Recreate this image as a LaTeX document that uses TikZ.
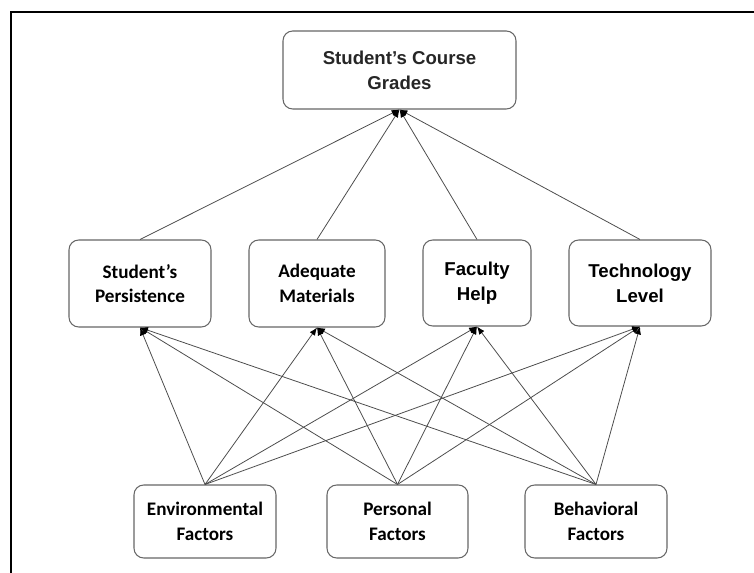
\documentclass[tikz,border=0pt]{standalone}
\usepackage{fontspec}
\setmainfont{Liberation Sans}
\newfontfamily\calibrifont{Carlito}
\usepackage{tikz}
\usetikzlibrary{arrows.meta}
\usetikzlibrary{positioning}
\tikzstyle{box} = [draw=black!60, rounded corners=5.5pt, align=center, line width=0.6pt, font=\bfseries\fontsize{10.6}{14.2}\selectfont]
\tikzstyle{cbox} = [box, font=\calibrifont\bfseries\fontsize{10.9}{14.0}\selectfont]
\tikzstyle{link} = [black!70, line width=0.45pt, -{Latex[length=4.5pt, width=3.6pt, color=black]}]

\begin{document}
\begin{tikzpicture}[x=0.02cm, y=-0.02cm]
                \useasboundingbox (0,0) rectangle (754,573);
                \draw[line width=1.2pt] (11,600) -- (11,12) -- (780,12);

                % outcome
                \node[box, text=black!85, minimum width=4.66cm, minimum height=1.56cm] (grades) at (399.5,70) {Student’s Course\\Grades};

                % middle row
                \node[cbox, minimum width=2.84cm, minimum height=1.74cm] (persist) at (140,283.5) {Student’s\\Persistence};
                \node[cbox, minimum width=2.72cm, minimum height=1.74cm] (materials) at (317,283.5) {Adequate\\Materials};
                \node[box, minimum width=2.16cm, minimum height=1.72cm] (faculty) at (477,283) {Faculty\\Help};
                \node[box, minimum width=2.84cm, minimum height=1.72cm] (tech) at (640,283) {Technology\\Level};

                % bottom row
                \node[cbox, minimum width=2.84cm, minimum height=1.46cm] (env) at (205,521.5) {Environmental\\Factors};
                \node[cbox, minimum width=2.82cm, minimum height=1.46cm] (personal) at (397.5,521.5) {Personal\\Factors};
                \node[cbox, minimum width=2.84cm, minimum height=1.46cm] (behav) at (596,521.5) {Behavioral\\Factors};

                % links
                \foreach \m in {persist, materials, faculty, tech}
                    \draw[link] (\m.north) -- (grades.south);
                \foreach \f in {env, personal, behav}
                    \foreach \m in {persist, materials, faculty, tech}
                        \draw[link] (\f.north) -- (\m.south);
            \end{tikzpicture}
\end{document}
